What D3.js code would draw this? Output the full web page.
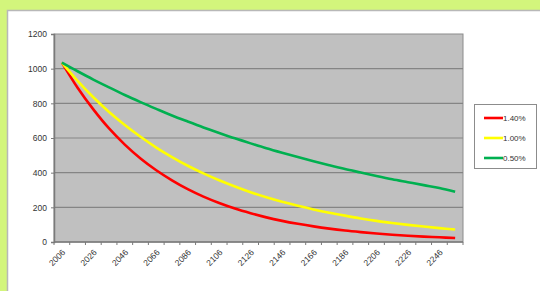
<!DOCTYPE html>
<html>
<head>
<meta charset="utf-8">
<script src="https://cdn.jsdelivr.net/npm/d3@7"></script>
<style>
  body { margin: 0; background: #d3f57c; }
  #chart { position: absolute; left: 0; top: 0; }
  text { font-family: "Liberation Sans", Arial, sans-serif; }
</style>
</head>
<body>
<div id="chart"></div>
<script>
// categories every 10 years
const years = d3.range(2006, 2257, 10);
const yTicks = [0, 200, 400, 600, 800, 1000, 1200];

// values
const red = [1035, 890, 765, 655, 562, 482, 414, 356, 305, 262, 225, 193, 166, 142, 122, 105, 90, 77, 66, 57, 49, 42, 36, 31, 27, 23];
const yellow = [1035, 930, 835, 750, 675, 607, 545, 490, 440, 396, 356, 320, 287, 258, 232, 209, 188, 169, 152, 136, 122, 110, 99, 89, 80, 72];
const green = [1035, 985, 937, 892, 848, 807, 768, 730, 695, 661, 629, 598, 569, 541, 515, 490, 466, 443, 421, 401, 381, 362, 345, 328, 312, 290];

const series = [
  { name: "1.40%", values: red, color: "#ff0000" },
  { name: "1.00%", values: yellow, color: "#ffff00" },
  { name: "0.50%", values: green, color: "#00b050" }
];

const width = 540, height = 291;
const plot = { left: 54, top: 34, right: 463, bottom: 242 };

const svg = d3.select("#chart").append("svg")
    .attr("width", width)
    .attr("height", height);

// white chart panel with grey edge
svg.append("rect")
    .attr("x", 7.5).attr("y", 10.5)
    .attr("width", width).attr("height", height)
    .attr("fill", "#ffffff")
    .attr("stroke", "#b8b8b8")
    .attr("stroke-width", 1.5);

const x = d3.scaleBand()
    .domain(years)
    .range([plot.left, plot.right]);

const y = d3.scaleLinear()
    .domain([0, 1200])
    .range([plot.bottom, plot.top]);

// plot area
svg.append("rect")
    .attr("x", plot.left).attr("y", plot.top)
    .attr("width", plot.right - plot.left)
    .attr("height", plot.bottom - plot.top)
    .attr("fill", "#c0c0c0")
    .attr("stroke", "#8c8c8c")
    .attr("stroke-width", 1);

// gridlines
svg.append("g")
    .selectAll("line")
    .data(yTicks.filter(d => d > 0 && d < 1200))
    .enter()
    .append("line")
    .attr("x1", plot.left).attr("x2", plot.right)
    .attr("y1", d => y(d)).attr("y2", d => y(d))
    .attr("stroke", "#858585")
    .attr("stroke-width", 1.2);

// y axis
const yAxis = svg.append("g")
    .attr("transform", `translate(${plot.left},0)`)
    .call(d3.axisLeft(y).tickValues(yTicks).tickFormat(d3.format("d")).tickSize(3).tickPadding(4));
yAxis.select(".domain").attr("stroke", "#7a7a7a").attr("stroke-width", 1.5);
yAxis.selectAll(".tick line").attr("stroke", "#7a7a7a");
yAxis.selectAll("text").attr("fill", "#333").style("font-size", "8.5px");

// x axis: tick marks at category boundaries, labels every other category
const xAxisG = svg.append("g")
    .attr("transform", `translate(0,${plot.bottom})`);
xAxisG.append("line")
    .attr("x1", plot.left).attr("x2", plot.right)
    .attr("stroke", "#7a7a7a").attr("stroke-width", 1.5);
xAxisG.selectAll(".tk")
    .data(years.concat([null]))
    .enter()
    .append("line")
    .attr("class", "tk")
    .attr("x1", (d, i) => plot.left + i * x.bandwidth())
    .attr("x2", (d, i) => plot.left + i * x.bandwidth())
    .attr("y1", 0).attr("y2", 3)
    .attr("stroke", "#7a7a7a");
xAxisG.selectAll(".lbl")
    .data(years.filter((d, i) => i % 2 === 0))
    .enter()
    .append("text")
    .attr("class", "lbl")
    .attr("transform", d => `translate(${x(d) + x.bandwidth() / 2 + 4},${11}) rotate(-45)`)
    .attr("text-anchor", "end")
    .attr("fill", "#333")
    .style("font-size", "8.5px")
    .text(d => d);

// lines
const line = d3.line()
    .x((d, i) => x(years[i]) + x.bandwidth() / 2)
    .y(d => y(d))
    .curve(d3.curveCatmullRom);

svg.append("g")
    .selectAll("path")
    .data(series)
    .enter()
    .append("path")
    .attr("d", d => line(d.values))
    .attr("fill", "none")
    .attr("stroke", d => d.color)
    .attr("stroke-width", 2.6);

// legend
const legend = svg.append("g");
legend.append("rect")
    .attr("x", 474.5).attr("y", 104.5)
    .attr("width", 62).attr("height", 64)
    .attr("fill", "#fff")
    .attr("stroke", "#8c8c8c");
const item = legend.selectAll(".item")
    .data(series)
    .enter()
    .append("g")
    .attr("transform", (d, i) => `translate(0,${118 + i * 20})`);
item.append("line")
    .attr("x1", 484).attr("x2", 503)
    .attr("stroke", d => d.color)
    .attr("stroke-width", 2.6);
item.append("text")
    .attr("x", 503).attr("y", 3)
    .attr("fill", "#333")
    .style("font-size", "8px")
    .text(d => d.name);
</script>
</body>
</html>
